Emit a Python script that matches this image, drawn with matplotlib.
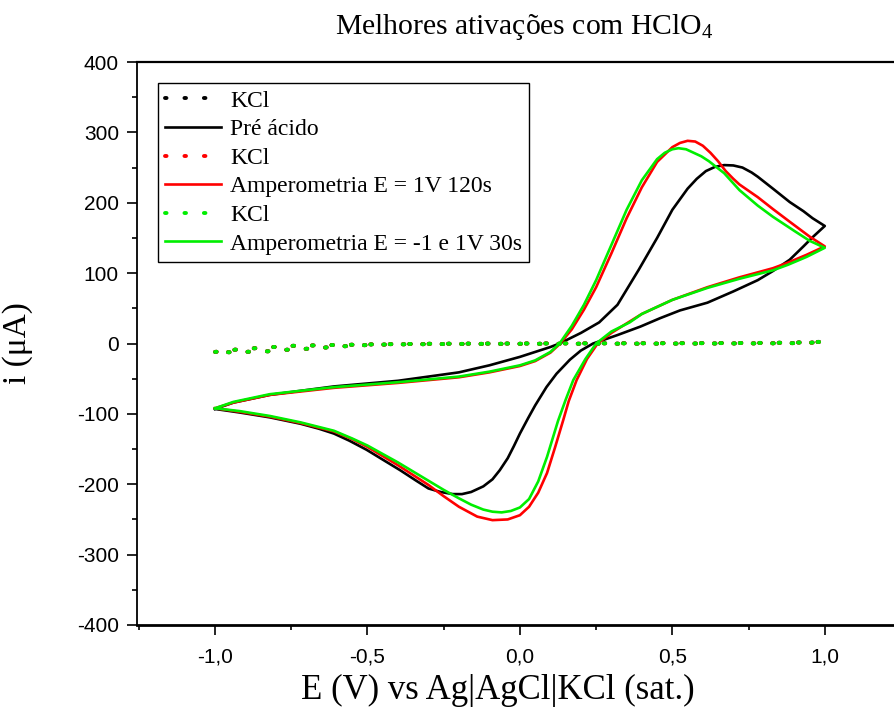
import matplotlib
matplotlib.use("Agg")
import matplotlib.pyplot as plt
from matplotlib.ticker import MultipleLocator, FuncFormatter

plt.rcParams['font.family'] = 'Liberation Sans'
plt.rcParams['axes.unicode_minus'] = False
plt.rcParams['mathtext.fontset'] = 'custom'
plt.rcParams['mathtext.rm'] = 'Liberation Serif'
plt.rcParams['mathtext.it'] = 'Liberation Serif:italic'

# --- voltammograms (E in V, i in uA), forward scan then reverse scan ---
pre_E = [-1.00, -0.94, -0.82, -0.61, -0.40, -0.20, -0.10, -0.05, 0.00, 0.05, 0.10, 0.13,
         0.20, 0.26, 0.32, 0.39, 0.45, 0.50, 0.55, 0.58, 0.61, 0.64, 0.67, 0.70, 0.73,
         0.76, 0.78, 0.83, 0.885, 0.93, 0.96, 1.00,
         0.96, 0.93, 0.885, 0.83, 0.78, 0.70, 0.615, 0.525, 0.46, 0.395, 0.32, 0.24,
         0.20, 0.164, 0.12, 0.087, 0.05, 0.027, 0.00, -0.02, -0.04, -0.066, -0.09, -0.12,
         -0.16, -0.19, -0.22, -0.26, -0.30, -0.34, -0.393, -0.45, -0.503, -0.56, -0.61,
         -0.66, -0.72, -0.82, -0.92, -1.00]
pre_i = [-93, -84, -73, -61, -53, -41, -31, -25, -19, -12, -5, 0,
         15, 30, 55, 105, 150, 190, 220, 234, 245, 251, 253.5, 253, 250,
         243, 237, 220, 201, 188, 178, 167,
         151, 138, 119, 103, 90, 74, 58, 47, 36, 24, 12, 0,
         -10, -23, -43, -62, -88, -106, -128, -146, -163, -180, -193, -203,
         -211, -214, -214, -211, -206, -195, -180, -165, -151, -138, -128,
         -121, -114, -105, -98, -93]

amp120_E = [-1.00, -0.94, -0.82, -0.61, -0.40, -0.20, -0.10, 0.00, 0.05, 0.10, 0.13, 0.17,
            0.21, 0.25, 0.30, 0.35, 0.40, 0.45, 0.50, 0.525, 0.55, 0.575, 0.60, 0.625,
            0.65, 0.675, 0.70, 0.72, 0.78, 0.83, 0.885, 0.95, 1.00,
            0.94, 0.88, 0.83, 0.72, 0.615, 0.50, 0.40, 0.30, 0.255, 0.22, 0.186,
            0.16, 0.142, 0.115, 0.089, 0.06, 0.03, 0.00, -0.04, -0.09, -0.14, -0.20,
            -0.25, -0.30, -0.35, -0.40, -0.45, -0.50, -0.55, -0.61, -0.72, -0.82, -0.92,
            -1.00]
amp120_i = [-92, -84, -73, -63, -56, -48, -41, -32, -25, -13, -1, 20,
            48, 80, 128, 178, 222, 258, 279, 285, 288, 287, 281, 271,
            259, 245, 234, 226, 208, 191, 173, 152, 138,
            126, 115, 107, 94, 80, 62, 42, 15, 0, -22, -52,
            -82, -109, -148, -184, -212, -232, -244, -250, -251, -246, -232,
            -217, -201, -187, -173, -160, -147, -136, -125, -113, -104, -97,
            -92]

amp30_E = [-1.00, -0.94, -0.82, -0.61, -0.40, -0.20, -0.10, 0.00, 0.05, 0.10, 0.13,
           0.17, 0.21, 0.25, 0.30, 0.35, 0.40, 0.45, 0.475, 0.50, 0.52, 0.545, 0.57,
           0.595, 0.62, 0.67, 0.72, 0.78, 0.83, 0.90, 0.95, 1.00,
           0.94, 0.88, 0.83, 0.72, 0.615, 0.50, 0.40, 0.36, 0.30, 0.25, 0.215,
           0.175, 0.15, 0.125, 0.089, 0.06, 0.03, 0.00, -0.03, -0.06, -0.09, -0.12,
           -0.16, -0.20, -0.25, -0.30, -0.35, -0.40, -0.45, -0.50, -0.55, -0.61,
           -0.72, -0.82, -0.92, -1.00]
amp30_i = [-92, -83, -72, -62, -55, -47, -40, -31, -24, -12, 0,
           25, 55, 90, 140, 190, 232, 262, 271, 276, 277.5, 276, 271,
           266, 259, 242, 218, 196, 180, 160, 146, 136,
           123, 112, 104, 92, 79, 62, 42, 30, 17, 0, -22,
           -52, -80, -110, -161, -196, -221, -233, -238, -240, -239, -236,
           -229, -220, -208, -195, -182, -169, -157, -145, -135, -124,
           -112, -103, -96, -92]

# blank runs in KCl, one per electrode state
kcl_E = [-1.00, -0.94, -0.88, -0.82, -0.77, -0.71, -0.66, -0.60, -0.54, -0.48, -0.40,
         -0.30, -0.20, 0.00, 0.20, 0.40, 0.60, 0.80, 0.90, 0.95, 1.00,
         0.95, 0.90, 0.80, 0.60, 0.40, 0.20, 0.00, -0.20, -0.40, -0.48, -0.54, -0.60,
         -0.66, -0.71, -0.77, -0.82, -0.88, -0.94, -1.00]
kcl_pre_i = [-12, -9, -7, -5.5, -3.5, -3, -2.6, -2, -1.7, -1.2, -0.8,
             -0.4, -0.2, 0.0, 0.2, 0.4, 0.6, 0.9, 1.3, 1.9, 2.6,
             1.1, 0.6, 0.2, 0.0, -0.2, -0.3, -0.4, -0.6, -1.2, -1.7, -3, -4.5,
             -6.4, -7.8, -9, -11, -11.6, -12.5, -12]
kcl_amp120_i = [-12, -9, -7, -5.5, -3.6, -3, -2.6, -2, -1.7, -1.2, -0.8,
                -0.4, -0.2, 0.0, 0.2, 0.3, 0.5, 0.8, 1.2, 1.8, 2.5,
                1.0, 0.5, 0.2, 0.0, -0.2, -0.3, -0.4, -0.6, -1.2, -1.8, -3, -4.5,
                -6.4, -7.8, -9, -11, -11.6, -12.5, -12]
kcl_amp30_i = [-12, -9, -7, -5.5, -3.5, -3, -2.6, -2, -1.7, -1.2, -0.8,
               -0.4, -0.2, 0.0, 0.2, 0.3, 0.5, 0.8, 1.2, 1.8, 2.5,
               1.0, 0.5, 0.2, 0.0, -0.2, -0.3, -0.4, -0.6, -1.2, -1.7, -3, -4.5,
               -6.4, -7.8, -9, -11, -11.6, -12.5, -12]

labels = ["KCl", "Pré ácido", "KCl", "Amperometria E = 1V 120s",
          "KCl", "Amperometria E = -1 e 1V 30s"]

serif = "Liberation Serif"

fig = plt.figure(figsize=(8.94, 7.13), dpi=100)
ax = fig.add_axes([137 / 894, 88 / 713, 764 / 894, 563 / 713])

dots = dict(linestyle=(0, (0.4, 4.6)), lw=2.8, dash_capstyle="round")
solid = dict(linestyle="-", lw=1.9, solid_joinstyle="round")
ax.plot(kcl_E, kcl_pre_i, color="black", label=labels[0], **dots)
ax.plot(pre_E, pre_i, color="black", label=labels[1], **solid)
ax.plot(kcl_E, kcl_amp120_i, color="red", label=labels[2], **dots)
ax.plot(amp120_E, amp120_i, color="red", label=labels[3], **solid)
ax.plot(kcl_E, kcl_amp30_i, color="#00ee00", label=labels[4], **dots)
ax.plot(amp30_E, amp30_i, color="#00ee00", label=labels[5], **solid)

ax.set_xlim(-1.256, 1.25)
ax.set_ylim(-400, 400)
ax.xaxis.set_major_locator(MultipleLocator(0.5))
ax.xaxis.set_minor_locator(MultipleLocator(0.25))
ax.yaxis.set_major_locator(MultipleLocator(100))
ax.yaxis.set_minor_locator(MultipleLocator(50))
ax.xaxis.set_major_formatter(FuncFormatter(lambda v, p: f"{v:.1f}".replace(".", ",")))
ax.yaxis.set_major_formatter(FuncFormatter(lambda v, p: f"{v:.0f}"))

ax.tick_params(axis="x", which="major", direction="out", length=7, width=1.2,
               labelsize=15, pad=9, top=False)
ax.tick_params(axis="y", which="major", direction="out", length=7, width=1.2,
               labelsize=15, pad=6, right=False)
ax.tick_params(which="minor", direction="out", length=3.5, width=1.2,
               top=False, right=False)

ax.spines["right"].set_visible(False)
ax.spines["left"].set_linewidth(1.3)
ax.spines["top"].set_linewidth(1.6)
ax.spines["bottom"].set_linewidth(2.0)

ax.set_xlabel("E (V) vs Ag|AgCl|KCl (sat.)", fontfamily=serif, fontsize=25, va="center")
ax.xaxis.set_label_coords((498 - 137) / 764, (625 - 690) / 563)
ax.set_ylabel("i (μA)", fontfamily=serif, fontsize=24, va="center")
ax.yaxis.set_label_coords((18 - 137) / 764, 0.5)
ax.text((524 - 137) / 764, (625 - 27) / 563, "Melhores ativações com HClO$_4$",
        transform=ax.transAxes, ha="center", va="center",
        fontfamily=serif, fontsize=21.3)

leg = ax.legend(loc="upper left", bbox_to_anchor=(21 / 764, 1 - 21 / 563),
                prop={"family": serif, "size": 17}, frameon=True, fancybox=False,
                edgecolor="black", framealpha=1, borderpad=0.3,
                handlelength=2.35, handletextpad=0.4, labelspacing=0.3,
                borderaxespad=0)
leg.get_frame().set_linewidth(1.0)

fig.savefig("out.png", dpi=100)
